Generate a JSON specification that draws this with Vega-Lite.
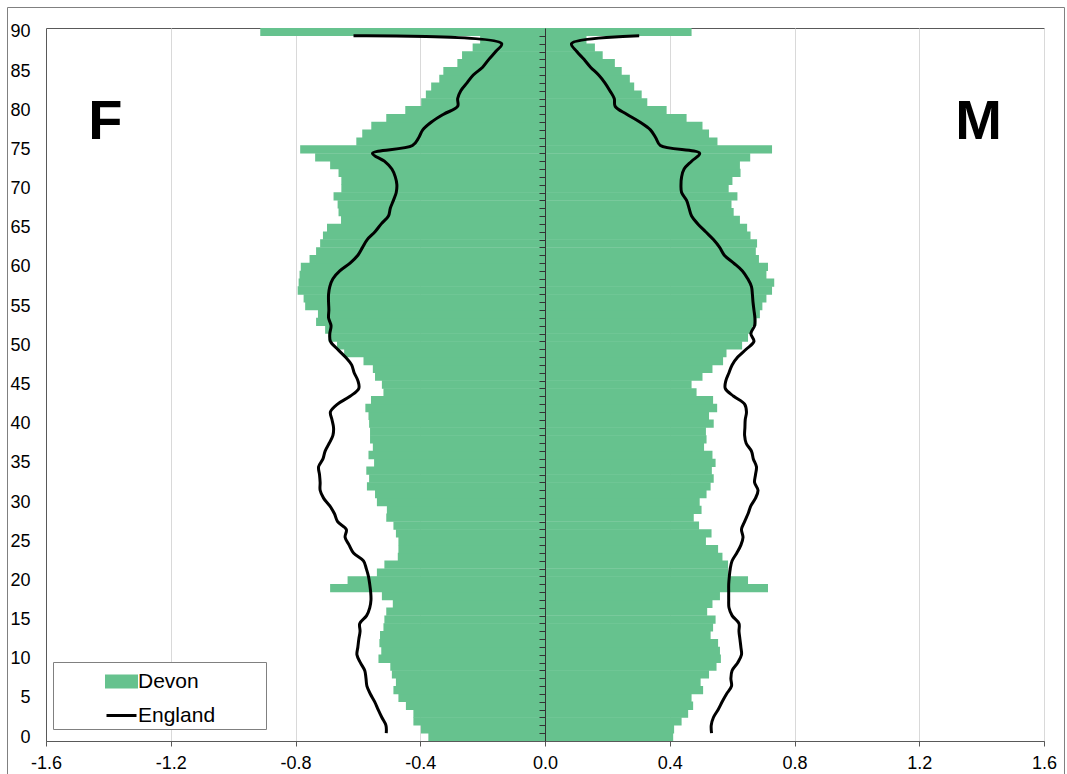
{
  "$schema": "https://vega.github.io/schema/vega-lite/v6.json",
  "width": 998,
  "height": 713,
  "autosize": {"type": "none"},
  "padding": {"left": 46, "top": 28, "right": 23, "bottom": 33},
  "background": "white",
  "config": {
    "view": {"stroke": "#595959", "strokeWidth": 1},
    "font": "Liberation Sans",
    "axis": {"labelFont": "Liberation Sans", "labelColor": "#000000", "labelFontSize": 18, "title": null, "domainColor": "#595959", "tickColor": "#595959", "gridColor": "#D9D9D9"}
  },
  "datasets": {
    "devon": [
      {"age":0,"sex":"F","value":-0.374},{"age":1,"sex":"F","value":-0.398},{"age":2,"sex":"F","value":-0.422},{"age":3,"sex":"F","value":-0.422},{"age":4,"sex":"F","value":-0.446},{"age":5,"sex":"F","value":-0.470},{"age":6,"sex":"F","value":-0.486},{"age":7,"sex":"F","value":-0.478},{"age":8,"sex":"F","value":-0.491},{"age":9,"sex":"F","value":-0.496},
      {"age":10,"sex":"F","value":-0.534},{"age":11,"sex":"F","value":-0.525},{"age":12,"sex":"F","value":-0.531},{"age":13,"sex":"F","value":-0.529},{"age":14,"sex":"F","value":-0.518},{"age":15,"sex":"F","value":-0.515},{"age":16,"sex":"F","value":-0.509},{"age":17,"sex":"F","value":-0.488},{"age":18,"sex":"F","value":-0.523},{"age":19,"sex":"F","value":-0.689},
      {"age":20,"sex":"F","value":-0.633},{"age":21,"sex":"F","value":-0.539},{"age":22,"sex":"F","value":-0.515},{"age":23,"sex":"F","value":-0.472},{"age":24,"sex":"F","value":-0.470},{"age":25,"sex":"F","value":-0.470},{"age":26,"sex":"F","value":-0.478},{"age":27,"sex":"F","value":-0.486},{"age":28,"sex":"F","value":-0.509},{"age":29,"sex":"F","value":-0.507},
      {"age":30,"sex":"F","value":-0.539},{"age":31,"sex":"F","value":-0.545},{"age":32,"sex":"F","value":-0.571},{"age":33,"sex":"F","value":-0.564},{"age":34,"sex":"F","value":-0.573},{"age":35,"sex":"F","value":-0.548},{"age":36,"sex":"F","value":-0.566},{"age":37,"sex":"F","value":-0.552},{"age":38,"sex":"F","value":-0.561},{"age":39,"sex":"F","value":-0.561},
      {"age":40,"sex":"F","value":-0.564},{"age":41,"sex":"F","value":-0.566},{"age":42,"sex":"F","value":-0.576},{"age":43,"sex":"F","value":-0.558},{"age":44,"sex":"F","value":-0.518},{"age":45,"sex":"F","value":-0.523},{"age":46,"sex":"F","value":-0.545},{"age":47,"sex":"F","value":-0.552},{"age":48,"sex":"F","value":-0.582},{"age":49,"sex":"F","value":-0.644},
      {"age":50,"sex":"F","value":-0.667},{"age":51,"sex":"F","value":-0.694},{"age":52,"sex":"F","value":-0.705},{"age":53,"sex":"F","value":-0.734},{"age":54,"sex":"F","value":-0.728},{"age":55,"sex":"F","value":-0.769},{"age":56,"sex":"F","value":-0.774},{"age":57,"sex":"F","value":-0.793},{"age":58,"sex":"F","value":-0.790},{"age":59,"sex":"F","value":-0.787},
      {"age":60,"sex":"F","value":-0.783},{"age":61,"sex":"F","value":-0.755},{"age":62,"sex":"F","value":-0.734},{"age":63,"sex":"F","value":-0.721},{"age":64,"sex":"F","value":-0.712},{"age":65,"sex":"F","value":-0.699},{"age":66,"sex":"F","value":-0.654},{"age":67,"sex":"F","value":-0.662},{"age":68,"sex":"F","value":-0.665},{"age":69,"sex":"F","value":-0.678},
      {"age":70,"sex":"F","value":-0.653},{"age":71,"sex":"F","value":-0.653},{"age":72,"sex":"F","value":-0.662},{"age":73,"sex":"F","value":-0.689},{"age":74,"sex":"F","value":-0.737},{"age":75,"sex":"F","value":-0.785},{"age":76,"sex":"F","value":-0.605},{"age":77,"sex":"F","value":-0.586},{"age":78,"sex":"F","value":-0.557},{"age":79,"sex":"F","value":-0.509},
      {"age":80,"sex":"F","value":-0.448},{"age":81,"sex":"F","value":-0.397},{"age":82,"sex":"F","value":-0.382},{"age":83,"sex":"F","value":-0.365},{"age":84,"sex":"F","value":-0.339},{"age":85,"sex":"F","value":-0.326},{"age":86,"sex":"F","value":-0.281},{"age":87,"sex":"F","value":-0.266},{"age":88,"sex":"F","value":-0.232},{"age":89,"sex":"F","value":-0.208},
      {"age":90,"sex":"F","value":-0.913},
      {"age":0,"sex":"M","value":0.411},{"age":1,"sex":"M","value":0.414},{"age":2,"sex":"M","value":0.438},{"age":3,"sex":"M","value":0.459},{"age":4,"sex":"M","value":0.475},{"age":5,"sex":"M","value":0.470},{"age":6,"sex":"M","value":0.507},{"age":7,"sex":"M","value":0.499},{"age":8,"sex":"M","value":0.526},{"age":9,"sex":"M","value":0.550},
      {"age":10,"sex":"M","value":0.564},{"age":11,"sex":"M","value":0.561},{"age":12,"sex":"M","value":0.555},{"age":13,"sex":"M","value":0.531},{"age":14,"sex":"M","value":0.539},{"age":15,"sex":"M","value":0.547},{"age":16,"sex":"M","value":0.520},{"age":17,"sex":"M","value":0.537},{"age":18,"sex":"M","value":0.561},{"age":19,"sex":"M","value":0.715},
      {"age":20,"sex":"M","value":0.651},{"age":21,"sex":"M","value":0.587},{"age":22,"sex":"M","value":0.587},{"age":23,"sex":"M","value":0.569},{"age":24,"sex":"M","value":0.555},{"age":25,"sex":"M","value":0.516},{"age":26,"sex":"M","value":0.534},{"age":27,"sex":"M","value":0.494},{"age":28,"sex":"M","value":0.477},{"age":29,"sex":"M","value":0.502},
      {"age":30,"sex":"M","value":0.496},{"age":31,"sex":"M","value":0.518},{"age":32,"sex":"M","value":0.531},{"age":33,"sex":"M","value":0.541},{"age":34,"sex":"M","value":0.535},{"age":35,"sex":"M","value":0.547},{"age":36,"sex":"M","value":0.537},{"age":37,"sex":"M","value":0.510},{"age":38,"sex":"M","value":0.518},{"age":39,"sex":"M","value":0.516},
      {"age":40,"sex":"M","value":0.541},{"age":41,"sex":"M","value":0.526},{"age":42,"sex":"M","value":0.552},{"age":43,"sex":"M","value":0.539},{"age":44,"sex":"M","value":0.486},{"age":45,"sex":"M","value":0.470},{"age":46,"sex":"M","value":0.505},{"age":47,"sex":"M","value":0.537},{"age":48,"sex":"M","value":0.571},{"age":49,"sex":"M","value":0.582},
      {"age":50,"sex":"M","value":0.632},{"age":51,"sex":"M","value":0.651},{"age":52,"sex":"M","value":0.665},{"age":53,"sex":"M","value":0.678},{"age":54,"sex":"M","value":0.689},{"age":55,"sex":"M","value":0.697},{"age":56,"sex":"M","value":0.710},{"age":57,"sex":"M","value":0.728},{"age":58,"sex":"M","value":0.735},{"age":59,"sex":"M","value":0.710},
      {"age":60,"sex":"M","value":0.715},{"age":61,"sex":"M","value":0.686},{"age":62,"sex":"M","value":0.676},{"age":63,"sex":"M","value":0.680},{"age":64,"sex":"M","value":0.659},{"age":65,"sex":"M","value":0.648},{"age":66,"sex":"M","value":0.625},{"age":67,"sex":"M","value":0.605},{"age":68,"sex":"M","value":0.598},{"age":69,"sex":"M","value":0.617},
      {"age":70,"sex":"M","value":0.589},{"age":71,"sex":"M","value":0.601},{"age":72,"sex":"M","value":0.627},{"age":73,"sex":"M","value":0.625},{"age":74,"sex":"M","value":0.658},{"age":75,"sex":"M","value":0.728},{"age":76,"sex":"M","value":0.553},{"age":77,"sex":"M","value":0.526},{"age":78,"sex":"M","value":0.505},{"age":79,"sex":"M","value":0.454},
      {"age":80,"sex":"M","value":0.390},{"age":81,"sex":"M","value":0.328},{"age":82,"sex":"M","value":0.310},{"age":83,"sex":"M","value":0.286},{"age":84,"sex":"M","value":0.272},{"age":85,"sex":"M","value":0.246},{"age":86,"sex":"M","value":0.224},{"age":87,"sex":"M","value":0.185},{"age":88,"sex":"M","value":0.160},{"age":89,"sex":"M","value":0.133},
      {"age":90,"sex":"M","value":0.470}
    ],
    "england": [
      {"age":0.5,"sex":"F","value":-0.509},{"age":1.5,"sex":"F","value":-0.510},{"age":2.5,"sex":"F","value":-0.523},{"age":3.5,"sex":"F","value":-0.535},{"age":4.5,"sex":"F","value":-0.546},{"age":5.5,"sex":"F","value":-0.560},{"age":6.5,"sex":"F","value":-0.571},{"age":7.5,"sex":"F","value":-0.574},{"age":8.5,"sex":"F","value":-0.578},{"age":9.5,"sex":"F","value":-0.592},
      {"age":10.5,"sex":"F","value":-0.603},{"age":11.5,"sex":"F","value":-0.600},{"age":12.5,"sex":"F","value":-0.597},{"age":13.5,"sex":"F","value":-0.593},{"age":14.5,"sex":"F","value":-0.594},{"age":15.5,"sex":"F","value":-0.572},{"age":16.5,"sex":"F","value":-0.562},{"age":17.5,"sex":"F","value":-0.558},{"age":18.5,"sex":"F","value":-0.559},{"age":19.5,"sex":"F","value":-0.562},
      {"age":20.5,"sex":"F","value":-0.566},{"age":21.5,"sex":"F","value":-0.573},{"age":22.5,"sex":"F","value":-0.582},{"age":23.5,"sex":"F","value":-0.614},{"age":24.5,"sex":"F","value":-0.628},{"age":25.5,"sex":"F","value":-0.641},{"age":26.5,"sex":"F","value":-0.637},{"age":27.5,"sex":"F","value":-0.665},{"age":28.5,"sex":"F","value":-0.675},{"age":29.5,"sex":"F","value":-0.690},
      {"age":30.5,"sex":"F","value":-0.710},{"age":31.5,"sex":"F","value":-0.721},{"age":32.5,"sex":"F","value":-0.721},{"age":33.5,"sex":"F","value":-0.723},{"age":34.5,"sex":"F","value":-0.726},{"age":35.5,"sex":"F","value":-0.712},{"age":36.5,"sex":"F","value":-0.705},{"age":37.5,"sex":"F","value":-0.692},{"age":38.5,"sex":"F","value":-0.680},{"age":39.5,"sex":"F","value":-0.678},
      {"age":40.5,"sex":"F","value":-0.683},{"age":41.5,"sex":"F","value":-0.688},{"age":42.5,"sex":"F","value":-0.665},{"age":43.5,"sex":"F","value":-0.625},{"age":44.5,"sex":"F","value":-0.597},{"age":45.5,"sex":"F","value":-0.600},{"age":46.5,"sex":"F","value":-0.612},{"age":47.5,"sex":"F","value":-0.620},{"age":48.5,"sex":"F","value":-0.640},{"age":49.5,"sex":"F","value":-0.665},
      {"age":50.5,"sex":"F","value":-0.688},{"age":51.5,"sex":"F","value":-0.690},{"age":52.5,"sex":"F","value":-0.686},{"age":53.5,"sex":"F","value":-0.694},{"age":54.5,"sex":"F","value":-0.693},{"age":55.5,"sex":"F","value":-0.694},{"age":56.5,"sex":"F","value":-0.694},{"age":57.5,"sex":"F","value":-0.690},{"age":58.5,"sex":"F","value":-0.680},{"age":59.5,"sex":"F","value":-0.658},
      {"age":60.5,"sex":"F","value":-0.625},{"age":61.5,"sex":"F","value":-0.600},{"age":62.5,"sex":"F","value":-0.585},{"age":63.5,"sex":"F","value":-0.570},{"age":64.5,"sex":"F","value":-0.545},{"age":65.5,"sex":"F","value":-0.525},{"age":66.5,"sex":"F","value":-0.502},{"age":67.5,"sex":"F","value":-0.496},{"age":68.5,"sex":"F","value":-0.486},{"age":69.5,"sex":"F","value":-0.477},
      {"age":70.5,"sex":"F","value":-0.475},{"age":71.5,"sex":"F","value":-0.480},{"age":72.5,"sex":"F","value":-0.491},{"age":73.5,"sex":"F","value":-0.515},{"age":74.5,"sex":"F","value":-0.553},{"age":75.5,"sex":"F","value":-0.425},{"age":76.5,"sex":"F","value":-0.405},{"age":77.5,"sex":"F","value":-0.392},{"age":78.5,"sex":"F","value":-0.364},{"age":79.5,"sex":"F","value":-0.325},
      {"age":80.5,"sex":"F","value":-0.280},{"age":81.5,"sex":"F","value":-0.280},{"age":82.5,"sex":"F","value":-0.270},{"age":83.5,"sex":"F","value":-0.250},{"age":84.5,"sex":"F","value":-0.230},{"age":85.5,"sex":"F","value":-0.200},{"age":86.5,"sex":"F","value":-0.180},{"age":87.5,"sex":"F","value":-0.158},{"age":88.5,"sex":"F","value":-0.139},{"age":89.5,"sex":"F","value":-0.614},
      {"age":0.5,"sex":"M","value":0.534},{"age":1.5,"sex":"M","value":0.533},{"age":2.5,"sex":"M","value":0.540},{"age":3.5,"sex":"M","value":0.555},{"age":4.5,"sex":"M","value":0.568},{"age":5.5,"sex":"M","value":0.582},{"age":6.5,"sex":"M","value":0.598},{"age":7.5,"sex":"M","value":0.596},{"age":8.5,"sex":"M","value":0.600},{"age":9.5,"sex":"M","value":0.618},
      {"age":10.5,"sex":"M","value":0.630},{"age":11.5,"sex":"M","value":0.628},{"age":12.5,"sex":"M","value":0.625},{"age":13.5,"sex":"M","value":0.622},{"age":14.5,"sex":"M","value":0.622},{"age":15.5,"sex":"M","value":0.600},{"age":16.5,"sex":"M","value":0.590},{"age":17.5,"sex":"M","value":0.589},{"age":18.5,"sex":"M","value":0.589},{"age":19.5,"sex":"M","value":0.589},
      {"age":20.5,"sex":"M","value":0.591},{"age":21.5,"sex":"M","value":0.594},{"age":22.5,"sex":"M","value":0.600},{"age":23.5,"sex":"M","value":0.615},{"age":24.5,"sex":"M","value":0.628},{"age":25.5,"sex":"M","value":0.635},{"age":26.5,"sex":"M","value":0.630},{"age":27.5,"sex":"M","value":0.640},{"age":28.5,"sex":"M","value":0.651},{"age":29.5,"sex":"M","value":0.660},
      {"age":30.5,"sex":"M","value":0.675},{"age":31.5,"sex":"M","value":0.683},{"age":32.5,"sex":"M","value":0.672},{"age":33.5,"sex":"M","value":0.675},{"age":34.5,"sex":"M","value":0.678},{"age":35.5,"sex":"M","value":0.668},{"age":36.5,"sex":"M","value":0.662},{"age":37.5,"sex":"M","value":0.645},{"age":38.5,"sex":"M","value":0.640},{"age":39.5,"sex":"M","value":0.641},
      {"age":40.5,"sex":"M","value":0.642},{"age":41.5,"sex":"M","value":0.646},{"age":42.5,"sex":"M","value":0.640},{"age":43.5,"sex":"M","value":0.605},{"age":44.5,"sex":"M","value":0.578},{"age":45.5,"sex":"M","value":0.580},{"age":46.5,"sex":"M","value":0.590},{"age":47.5,"sex":"M","value":0.600},{"age":48.5,"sex":"M","value":0.618},{"age":49.5,"sex":"M","value":0.645},
      {"age":50.5,"sex":"M","value":0.670},{"age":51.5,"sex":"M","value":0.660},{"age":52.5,"sex":"M","value":0.672},{"age":53.5,"sex":"M","value":0.673},{"age":54.5,"sex":"M","value":0.670},{"age":55.5,"sex":"M","value":0.667},{"age":56.5,"sex":"M","value":0.665},{"age":57.5,"sex":"M","value":0.662},{"age":58.5,"sex":"M","value":0.650},{"age":59.5,"sex":"M","value":0.633},
      {"age":60.5,"sex":"M","value":0.605},{"age":61.5,"sex":"M","value":0.575},{"age":62.5,"sex":"M","value":0.560},{"age":63.5,"sex":"M","value":0.540},{"age":64.5,"sex":"M","value":0.515},{"age":65.5,"sex":"M","value":0.490},{"age":66.5,"sex":"M","value":0.470},{"age":67.5,"sex":"M","value":0.462},{"age":68.5,"sex":"M","value":0.454},{"age":69.5,"sex":"M","value":0.438},
      {"age":70.5,"sex":"M","value":0.436},{"age":71.5,"sex":"M","value":0.438},{"age":72.5,"sex":"M","value":0.446},{"age":73.5,"sex":"M","value":0.470},{"age":74.5,"sex":"M","value":0.496},{"age":75.5,"sex":"M","value":0.370},{"age":76.5,"sex":"M","value":0.355},{"age":77.5,"sex":"M","value":0.338},{"age":78.5,"sex":"M","value":0.304},{"age":79.5,"sex":"M","value":0.262},
      {"age":80.5,"sex":"M","value":0.225},{"age":81.5,"sex":"M","value":0.222},{"age":82.5,"sex":"M","value":0.208},{"age":83.5,"sex":"M","value":0.192},{"age":84.5,"sex":"M","value":0.172},{"age":85.5,"sex":"M","value":0.146},{"age":86.5,"sex":"M","value":0.125},{"age":87.5,"sex":"M","value":0.102},{"age":88.5,"sex":"M","value":0.085},{"age":89.5,"sex":"M","value":0.302}
    ]
  },
  "resolve": {"axis": {"y": "independent"}},
  "layer": [
    {
      "data": {"values": [{}]},
      "mark": {"type": "rect", "fill": "transparent", "stroke": "#808080", "strokeWidth": 1, "clip": false},
      "encoding": {
        "x": {"datum": -1.7234, "type": "quantitative", "scale": {"domain": [-1.6, 1.6], "nice": false, "zero": false, "padding": 0},
              "axis": {"values": [-1.6,-1.2,-0.8,-0.4,0,0.4,0.8,1.2,1.6], "labelExpr": "replace(format(datum.value, '.1f'), '\u2212', '-')", "grid": true, "tickSize": 5, "labelPadding": 8, "labelFlush": false, "labelOverlap": false, "domainColor": "#595959"}},
        "x2": {"datum": 1.6657},
        "y": {"datum": 93.116, "type": "quantitative", "scale": {"domain": [-0.5, 90.5], "nice": false, "zero": false, "padding": 0}, "axis": null},
        "y2": {"datum": -6}
      }
    },
    {
      "data": {"name": "devon"},
      "mark": {"type": "bar", "height": 8.3, "clip": true},
      "encoding": {
        "y": {"field": "age", "type": "quantitative", "axis": {"orient": "left", "values": [0,5,10,15,20,25,30,35,40,45,50,55,60,65,70,75,80,85,90], "ticks": false, "tickSize": 0, "labelPadding": 16, "grid": false, "domain": true}},
        "x": {"field": "value", "type": "quantitative"},
        "x2": {"datum": 0},
        "color": {
          "datum": "Devon", "type": "nominal",
          "scale": {"domain": ["Devon", "England"], "range": ["#66C28E", "#000000"]},
          "legend": {
            "orient": "none", "legendX": 7, "legendY": 634, "title": null, "direction": "vertical",
            "strokeColor": "#808080", "fillColor": "white", "padding": 3, "rowPadding": 5,
            "symbolOffset": 49, "labelOffset": 0, "labelFontSize": 21, "labelFont": "Liberation Sans", "labelColor": "#000000", "labelLimit": 400,
            "symbolSize": 900, "symbolStrokeWidth": 3,
            "labelExpr": "datum.label + ' \u00a0\u00a0\u2800\u2800'",
            "encode": {
              "symbols": {
                "update": {
                  "shape": {"signal": "datum.value === 'Devon' ? 'M-1,-0.37H1V0.37H-1Z' : 'M-1,0H1'"},
                  "fill": {"signal": "datum.value === 'Devon' ? '#66C28E' : 'transparent'"},
                  "stroke": {"signal": "datum.value === 'Devon' ? 'transparent' : '#000000'"},
                  "strokeWidth": {"value": 3},
                  "opacity": {"value": 1}
                }
              }
            }
          }
        }
      }
    },
    {
      "data": {"name": "england"},
      "mark": {"type": "line", "strokeWidth": 3, "interpolate": "catmull-rom", "clip": true},
      "encoding": {
        "y": {"field": "age", "type": "quantitative", "axis": {"orient": "left", "offset": -499, "values": [0.5,1.5,2.5,3.5,4.5,5.5,6.5,7.5,8.5,9.5,10.5,11.5,12.5,13.5,14.5,15.5,16.5,17.5,18.5,19.5,20.5,21.5,22.5,23.5,24.5,25.5,26.5,27.5,28.5,29.5,30.5,31.5,32.5,33.5,34.5,35.5,36.5,37.5,38.5,39.5,40.5,41.5,42.5,43.5,44.5,45.5,46.5,47.5,48.5,49.5,50.5,51.5,52.5,53.5,54.5,55.5,56.5,57.5,58.5,59.5,60.5,61.5,62.5,63.5,64.5,65.5,66.5,67.5,68.5,69.5,70.5,71.5,72.5,73.5,74.5,75.5,76.5,77.5,78.5,79.5,80.5,81.5,82.5,83.5,84.5,85.5,86.5,87.5,88.5,89.5], "labels": false, "ticks": true, "tickSize": 6, "domain": true, "domainColor": "#333333", "tickColor": "#333333", "grid": false, "zindex": 1}},
        "x": {"field": "value", "type": "quantitative"},
        "detail": {"field": "sex"},
        "order": {"field": "age", "type": "quantitative"},
        "color": {"datum": "England", "type": "nominal"}
      }
    },
    {
      "data": {"values": [{}]},
      "mark": {"type": "text", "text": "F", "font": "Liberation Sans", "fontSize": 56, "fontWeight": "bold", "align": "center", "baseline": "alphabetic", "color": "#000000"},
      "encoding": {
        "x": {"datum": -1.41, "type": "quantitative"},
        "y": {"datum": 76.3, "type": "quantitative", "axis": null}
      }
    },
    {
      "data": {"values": [{}]},
      "mark": {"type": "text", "text": "M", "font": "Liberation Sans", "fontSize": 56, "fontWeight": "bold", "align": "center", "baseline": "alphabetic", "color": "#000000"},
      "encoding": {
        "x": {"datum": 1.39, "type": "quantitative"},
        "y": {"datum": 76.3, "type": "quantitative", "axis": null}
      }
    }
  ]
}
